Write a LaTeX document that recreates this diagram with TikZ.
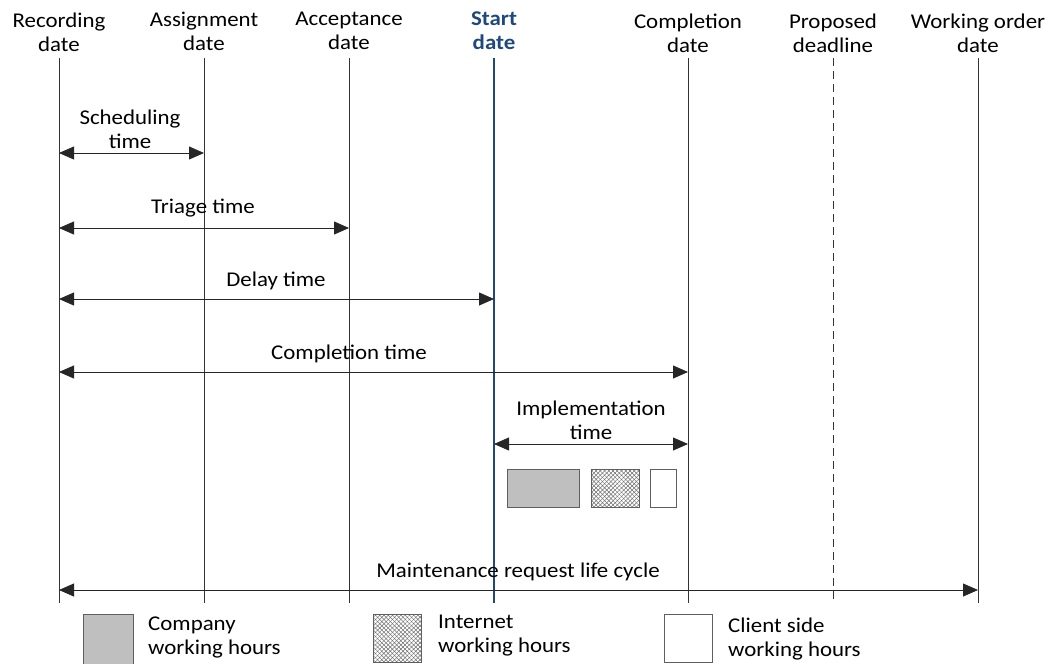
\documentclass[tikz,border=0pt]{standalone}
\usepackage{fontspec}
\setmainfont{Carlito}[FakeStretch=1.09]
\usetikzlibrary{arrows.meta,patterns.meta}
\definecolor{startblue}{RGB}{31,73,125}
\definecolor{boxgray}{RGB}{191,191,191}
\definecolor{edgegray}{RGB}{95,95,95}
\definecolor{hatchgray}{RGB}{110,110,110}

\begin{document}
\begin{tikzpicture}[x=1pt,y=-1pt,
  every node/.style={font=\fontsize{21}{24}\selectfont, align=center, inner sep=0pt},
  timeline/.style={line width=0.9pt, draw=black!80},
  startline/.style={line width=1.3pt, draw=startblue},
  deadline/.style={line width=0.9pt, draw=black!80, dash pattern=on 8pt off 5pt},
  span/.style={line width=0.8pt, draw=black!85,
    {Triangle[length=15pt,width=13pt]}-{Triangle[length=15pt,width=13pt]}},
  company/.style={fill=boxgray, draw=edgegray, line width=0.8pt},
  client/.style={fill=white, draw=edgegray, line width=0.8pt},
  legendtext/.style={anchor=west, align=left}
]
\useasboundingbox (0,0) rectangle (1050,664);

% column headings
\node (hRec)  at (59,32)  {Recording\\date};
\node (hAss)  at (204,31) {Assignment\\date};
\node (hAcc)  at (349,31) {Acceptance\\date};
\node[text=startblue, font=\fontsize{21}{24}\selectfont\bfseries] (hSta) at (494,31) {Start\\date};
\node (hCom)  at (688,33) {Completion\\date};
\node (hPro)  at (833,33) {Proposed\\deadline};
\node (hWor)  at (978,33) {Working order\\date};

% timelines
\foreach \n/\x in {Rec/59, Ass/204, Acc/349, Sta/494, Com/688, Pro/833, Wor/978} {
  \coordinate (t\n) at (\x,58);
  \coordinate (b\n) at (\x,603);
}
\draw[timeline] (tRec) -- (bRec);
\draw[timeline] (tAss) -- (bAss);
\draw[timeline] (tAcc) -- (bAcc);
\draw[timeline] (tCom) -- (bCom);
\draw[deadline] (tPro) -- (bPro);
\draw[timeline] (tWor) -- (bWor);
\draw[startline] (tSta) -- (bSta);

% durations
\coordinate (schA) at (59,153);  \coordinate (schB) at (204,153);
\coordinate (triA) at (59,228);  \coordinate (triB) at (349,228);
\coordinate (delA) at (59,299);  \coordinate (delB) at (494,299);
\coordinate (comA) at (59,372);  \coordinate (comB) at (688,372);
\coordinate (impA) at (494,444); \coordinate (impB) at (688,444);
\coordinate (maiA) at (59,590);  \coordinate (maiB) at (978,590);

\draw[span] (schA) -- (schB);
\draw[span] (triA) -- (triB);
\draw[span] (delA) -- (delB);
\draw[span] (comA) -- (comB);
\draw[span] (impA) -- (impB);
\draw[span] (maiA) -- (maiB);

\node (lSch) at (130,129) {Scheduling\\time};
\node (lTri) at (203,208) {Triage time};
\node (lDel) at (276,281) {Delay time};
\node (lCom) at (349,354) {Completion time};
\node (lImp) at (591,420) {Implementation\\time};
\node (lMai) at (518,572) {Maintenance request life cycle};

% working-hour blocks within the implementation time
\draw[company] (507,469) rectangle (579,507);
\fill[pattern={Lines[angle=45,distance=3pt,line width=0.5pt]}, pattern color=hatchgray] (591,469) rectangle (639,507);
\fill[pattern={Lines[angle=-45,distance=3pt,line width=0.5pt]}, pattern color=hatchgray] (591,469) rectangle (639,507);
\draw[draw=edgegray, line width=0.8pt] (591,469) rectangle (639,507);
\draw[client] (650,469) rectangle (676,507);

% legend
\draw[company] (83,614) rectangle (133,668);
\node[legendtext] (kCom) at (148,637.5) {Company\\working hours};

\fill[pattern={Lines[angle=45,distance=3pt,line width=0.5pt]}, pattern color=hatchgray] (373,614) rectangle (421,662);
\fill[pattern={Lines[angle=-45,distance=3pt,line width=0.5pt]}, pattern color=hatchgray] (373,614) rectangle (421,662);
\draw[draw=edgegray, line width=0.8pt] (373,614) rectangle (421,662);
\node[legendtext] (kInt) at (438,635.5) {Internet\\working hours};

\draw[client] (664,614) rectangle (712,662);
\node[legendtext] (kCli) at (728,639.5) {Client side\\working hours};
\end{tikzpicture}
\end{document}
